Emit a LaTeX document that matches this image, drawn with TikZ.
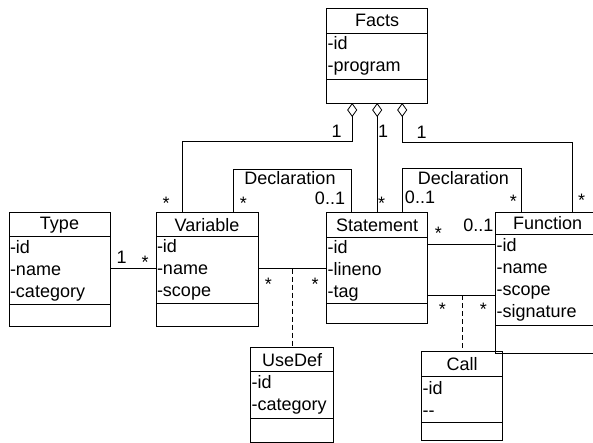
\documentclass[tikz,border=0pt]{standalone}
\usepackage{fontspec}
\setmainfont{Liberation Sans}
\usetikzlibrary{arrows.meta, positioning, calc}
\tikzset{%
	ctitle/.style={
		draw,
		anchor=north west,
		minimum width=101pt,
		minimum height=24pt,
		inner sep=0pt,
		outer sep=0pt
	},
	cattr/.style={
		draw,
		text width=99pt,
		inner xsep=1pt,
		inner ysep=0pt,
		outer sep=0pt,
		align=left
	},
	cops/.style={
		draw,
		minimum width=101pt,
		inner sep=0pt,
		outer sep=0pt
	},
	mult/.style={
		anchor=base,
		inner sep=0pt
	},
}
\begin{document}
\begin{tikzpicture}[
		x=1pt, y=-1pt,
		line width=0.8pt,
		every node/.style={font=\fontsize{18}{22}\selectfont},
		agg/.style={arrows={Diamond[open, length=14pt, width=10pt]-}},
		use/.style={dash pattern=on 5pt off 3pt}
		]
		\useasboundingbox (0,0) rectangle (593,442);
		
		% Classes
		\node[ctitle, minimum height=24.7pt] (facts) at (326.7,8.3) {Facts};
		\node[cattr, minimum height=46pt, below=0pt of facts] (factsattr) {-id\\-program};
		\node[cops, minimum height=24pt, below=0pt of factsattr] (factsops) {};
		
		\node[ctitle] (type) at (9,212.7) {Type};
		\node[cattr, minimum height=68pt, below=0pt of type] (typeattr) {-id\\-name\\-category};
		\node[cops, minimum height=22pt, below=0pt of typeattr] (typeops) {};
		
		\node[ctitle, minimum width=102pt] (variable) at (156,212.7) {Variable};
		\node[cattr, text width=100pt, minimum height=67pt, below=0pt of variable] (variableattr) {-id\\-name\\-scope};
		\node[cops, minimum width=102pt, minimum height=22.5pt, below=0pt of variableattr] (variableops) {};
		
		\node[ctitle, minimum height=25pt] (statement) at (326.7,212.7) {Statement};
		\node[cattr, minimum height=66pt, below=0pt of statement] (statementattr) {-id\\-lineno\\-tag};
		\node[cops, minimum height=19.5pt, below=0pt of statementattr] (statementops) {};
		
		\node[ctitle, minimum width=104pt, minimum height=22pt] (function) at (495.7,212.3) {Function};
		\node[cattr, text width=102pt, minimum height=91pt, below=0pt of function] (functionattr) {-id\\-name\\-scope\\-signature};
		\node[cops, minimum width=104pt, minimum height=28pt, below=0pt of functionattr] (functionops) {};
		
		\node[ctitle, minimum width=83pt] (usedef) at (250.7,347.7) {UseDef};
		\node[cattr, text width=81pt, minimum height=46.6pt, below=0pt of usedef] (usedefattr) {-id\\-category};
		\node[cops, minimum width=83pt, minimum height=24pt, below=0pt of usedefattr] (usedefops) {};
		
		\node[ctitle, minimum width=81pt, minimum height=24.3pt] (call) at (421.7,351.7) {Call};
		\node[cattr, text width=79pt, minimum height=46.7pt, below=0pt of call] (callattr) {-id\\-{}-};
		\node[cops, minimum width=81pt, minimum height=17.3pt, below=0pt of callattr] (callops) {};
		
		% Aggregations from Facts
		\coordinate (f1) at ($(factsops.south)+(-25,0)$);
		\coordinate (f3) at ($(factsops.south)+(25,0)$);
		\coordinate (v1) at ($(variable.north west)+(26.3,0)$);
		\coordinate (n1) at ($(function.north west)+(76.6,0)$);
		\draw[agg] (f1) -- ++(0,38.7) -| (v1);
		\draw[agg] (factsops.south) -- (statement.north);
		\draw[agg] (f3) -- ++(0,39.3) -| (n1);
		
		% Declarations
		\coordinate (v2) at ($(variable.north west)+(77.3,0)$);
		\coordinate (s1) at ($(statement.north west)+(25,0)$);
		\coordinate (s2) at ($(statement.north west)+(75.6,0)$);
		\coordinate (n2) at ($(function.north west)+(25.3,0)$);
		\draw (v2) -- ++(0,-43.4) -| (s1);
		\draw (s2) -- ++(0,-44.4) -| (n2);
		
		% Associations
		\coordinate (t1) at ([yshift=2.4pt]typeattr.east);
		\draw (t1) -- (t1 -| variableattr.west);
		\coordinate (vs) at ([yshift=1.5pt]variableattr.east);
		\draw (vs) -- (vs -| statementattr.west);
		\draw[use] (vs -| usedef.north) -- (usedef.north);
		\coordinate (sf1) at ([yshift=-6.6pt]statementattr.north east);
		\draw (sf1) -- (sf1 -| functionattr.west);
		\coordinate (sf2) at ([yshift=8.7pt]statementattr.south east);
		\draw (sf2) -- (sf2 -| functionattr.west);
		\draw[use] (sf2 -| call.north) -- (call.north);
		
		% Labels
		\node[mult] at (290,184.7) {Declaration};
		\node[mult] at (463.3,184.7) {Declaration};
		\node[mult] at (336.7,137) {1};
		\node[mult] at (383,137.3) {1};
		\node[mult] at (421.7,138) {1};
		\node[mult] at (121.7,263) {1};
		\node[mult] at (330,204.6) {0..1};
		\node[mult] at (420,203.6) {0..1};
		\node[mult] at (478.3,231.3) {0..1};
		\node[mult] at (166,209) {*};
		\node[mult] at (243.3,209) {*};
		\node[mult] at (381.7,209) {*};
		\node[mult] at (513.3,207) {*};
		\node[mult] at (581.7,206) {*};
		\node[mult] at (145,268) {*};
		\node[mult] at (268.3,290.7) {*};
		\node[mult] at (315,290.7) {*};
		\node[mult] at (438.3,239.3) {*};
		\node[mult] at (442.3,315) {*};
		\node[mult] at (483.3,315) {*};
		
	\end{tikzpicture}
\end{document}
